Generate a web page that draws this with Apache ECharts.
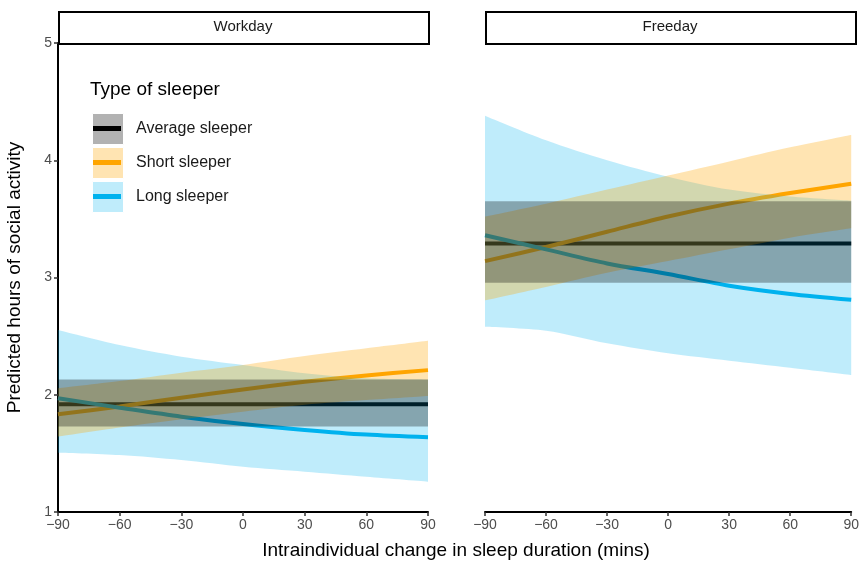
<!DOCTYPE html>
<html>
<head>
<meta charset="utf-8">
<script src="https://cdn.jsdelivr.net/npm/echarts@6/dist/echarts.min.js"></script>
<style>
  html, body { margin: 0; padding: 0; background: #fff; }
  #chart { width: 862px; height: 565px; }
</style>
</head>
<body>
<div id="chart"></div>
<script>
// sleep change (mins)
const xs = [-90, -60, -30, 0, 30, 60, 90];
const panels = ["Workday", "Freeday"];
const groups = ["Average sleeper", "Short sleeper", "Long sleeper"];
const yTicks = [1, 2, 3, 4, 5];

// Workday
const workAvg = [1.92, 1.92, 1.92, 1.92, 1.92, 1.92, 1.92];
const workAvgLo = [1.73, 1.73, 1.73, 1.73, 1.73, 1.73, 1.73];
const workAvgHi = [2.13, 2.13, 2.13, 2.13, 2.13, 2.13, 2.13];
const workShort = [1.833, 1.90, 1.975, 2.045, 2.11, 2.165, 2.21];
const workShortLo = [1.642, 1.72, 1.79, 1.856, 1.915, 1.955, 1.99];
const workShortHi = [2.055, 2.117, 2.188, 2.254, 2.33, 2.396, 2.46];
const workLong = [1.97, 1.89, 1.813, 1.75, 1.70, 1.66, 1.637];
const workLongLo = [1.506, 1.486, 1.443, 1.386, 1.344, 1.301, 1.259];
const workLongHi = [2.552, 2.424, 2.325, 2.254, 2.183, 2.14, 2.13];

// Freeday
const freeAvg = [3.29, 3.29, 3.29, 3.29, 3.29, 3.29, 3.29];
const freeAvgLo = [2.955, 2.955, 2.955, 2.955, 2.955, 2.955, 2.955];
const freeAvgHi = [3.65, 3.65, 3.65, 3.65, 3.65, 3.65, 3.65];
const freeShort = [3.14, 3.26, 3.39, 3.52, 3.63, 3.72, 3.80];
const freeShortLo = [2.805, 2.92, 3.04, 3.14, 3.24, 3.34, 3.42];
const freeShortHi = [3.52, 3.63, 3.75, 3.87, 3.99, 4.11, 4.215];
const freeLong = [3.36, 3.24, 3.12, 3.03, 2.93, 2.86, 2.81];
const freeLongLo = [2.58, 2.546, 2.439, 2.354, 2.291, 2.231, 2.169];
const freeLongHi = [4.38, 4.17, 4.00, 3.86, 3.75, 3.69, 3.655];

const lineColors = ["#000000", "#FFA500", "#00B2EE"];
const fillColors = ["rgba(0,0,0,0.3)", "rgba(255,165,0,0.3)", "rgba(0,178,238,0.25)"];
const font = "Liberation Sans, Arial, sans-serif";

const panelData = [
  [[workAvg, workAvgLo, workAvgHi], [workShort, workShortLo, workShortHi], [workLong, workLongLo, workLongHi]],
  [[freeAvg, freeAvgLo, freeAvgHi], [freeShort, freeShortLo, freeShortHi], [freeLong, freeLongLo, freeLongHi]]
];

const minus = v => (Number(v) < 0 ? "\u2212" + Math.abs(v) : String(v));

const series = [];
panelData.forEach((pd, p) => {
  // lines sit under the ribbons
  pd.forEach(([mid], g) => {
    series.push({
      name: groups[g], type: "line", xAxisIndex: p, yAxisIndex: p, smooth: 0.3,
      data: mid, symbol: "none",
      lineStyle: { color: lineColors[g], width: 4 }, z: 2
    });
  });
  // ribbons drawn long -> short -> average so grey ends up on top
  [2, 1, 0].forEach(g => {
    const [, lo, hi] = pd[g];
    const stack = "band" + p + "_" + g;
    series.push({
      type: "line", xAxisIndex: p, yAxisIndex: p, stack: stack, smooth: 0.3,
      data: lo, symbol: "none", lineStyle: { opacity: 0 }, silent: true, z: 3
    });
    series.push({
      type: "line", xAxisIndex: p, yAxisIndex: p, stack: stack, smooth: 0.3,
      data: hi.map((h, i) => h - lo[i]), symbol: "none",
      lineStyle: { opacity: 0 }, areaStyle: { color: fillColors[g], opacity: 1 }, silent: true, z: 3
    });
  });
});

const grids = [
  { left: 58, top: 43, width: 370, height: 469 },
  { left: 485, top: 43, width: 370, height: 469 }
];

const xAxes = grids.map((_, i) => ({
  type: "category", gridIndex: i, data: xs, boundaryGap: false,
  axisLine: { show: true, onZero: false, lineStyle: { color: "#000", width: 2 } },
  axisTick: { show: true, length: 4, interval: 0, lineStyle: { color: "#333", width: 1.5 } },
  axisLabel: { color: "#4d4d4d", fontSize: 14, fontFamily: font, margin: 6, interval: 0, formatter: minus },
  splitLine: { show: false }
}));

const yAxes = grids.map((_, i) => ({
  type: "value", gridIndex: i, min: yTicks[0], max: yTicks[yTicks.length - 1], interval: 1,
  show: i === 0,
  axisLine: { show: true, onZero: false, lineStyle: { color: "#000", width: 2 } },
  axisTick: { show: true, length: 4, lineStyle: { color: "#333", width: 1.5 } },
  axisLabel: { color: "#4d4d4d", fontSize: 14, fontFamily: font, margin: 6 },
  splitLine: { show: false },
  name: i === 0 ? "Predicted hours of social activity" : "",
  nameLocation: "middle", nameGap: 34,
  nameTextStyle: { color: "#000", fontSize: 19, fontFamily: font }
}));

const graphic = [];
panels.forEach((name, i) => {
  graphic.push({
    type: "rect", left: grids[i].left, top: 11,
    shape: { width: 370, height: 32 },
    style: { fill: "#fff", stroke: "#000", lineWidth: 2 }
  });
  graphic.push({
    type: "text", x: grids[i].left + 185, y: 27,
    style: { text: name, fill: "#1a1a1a", font: "15px " + font, textAlign: "center", textVerticalAlign: "middle" }
  });
});
graphic.push({
  type: "text", x: 456, y: 551,
  style: { text: "Intraindividual change in sleep duration (mins)", fill: "#000", font: "19px " + font, textAlign: "center", textVerticalAlign: "middle" }
});
// legend
graphic.push({
  type: "text", x: 90, y: 90,
  style: { text: "Type of sleeper", fill: "#000", font: "19px " + font, textVerticalAlign: "middle" }
});
const keyTops = [113, 147, 181];
groups.forEach((g, k) => {
  graphic.push({
    type: "rect", left: 92, top: keyTops[k], shape: { width: 31, height: 31 },
    style: { fill: fillColors[k], stroke: "#fff", lineWidth: 1 }
  });
  graphic.push({
    type: "rect", left: 93, top: keyTops[k] + 13, shape: { width: 28, height: 5 },
    style: { fill: lineColors[k] }
  });
  graphic.push({
    type: "text", x: 136, y: keyTops[k] + 16,
    style: { text: g, fill: "#1a1a1a", font: "16px " + font, textVerticalAlign: "middle" }
  });
});

const chart = echarts.init(document.getElementById("chart"));
chart.setOption({
  animation: false,
  backgroundColor: "#fff",
  grid: grids,
  xAxis: xAxes,
  yAxis: yAxes,
  series: series,
  graphic: graphic
});
</script>
</body>
</html>
